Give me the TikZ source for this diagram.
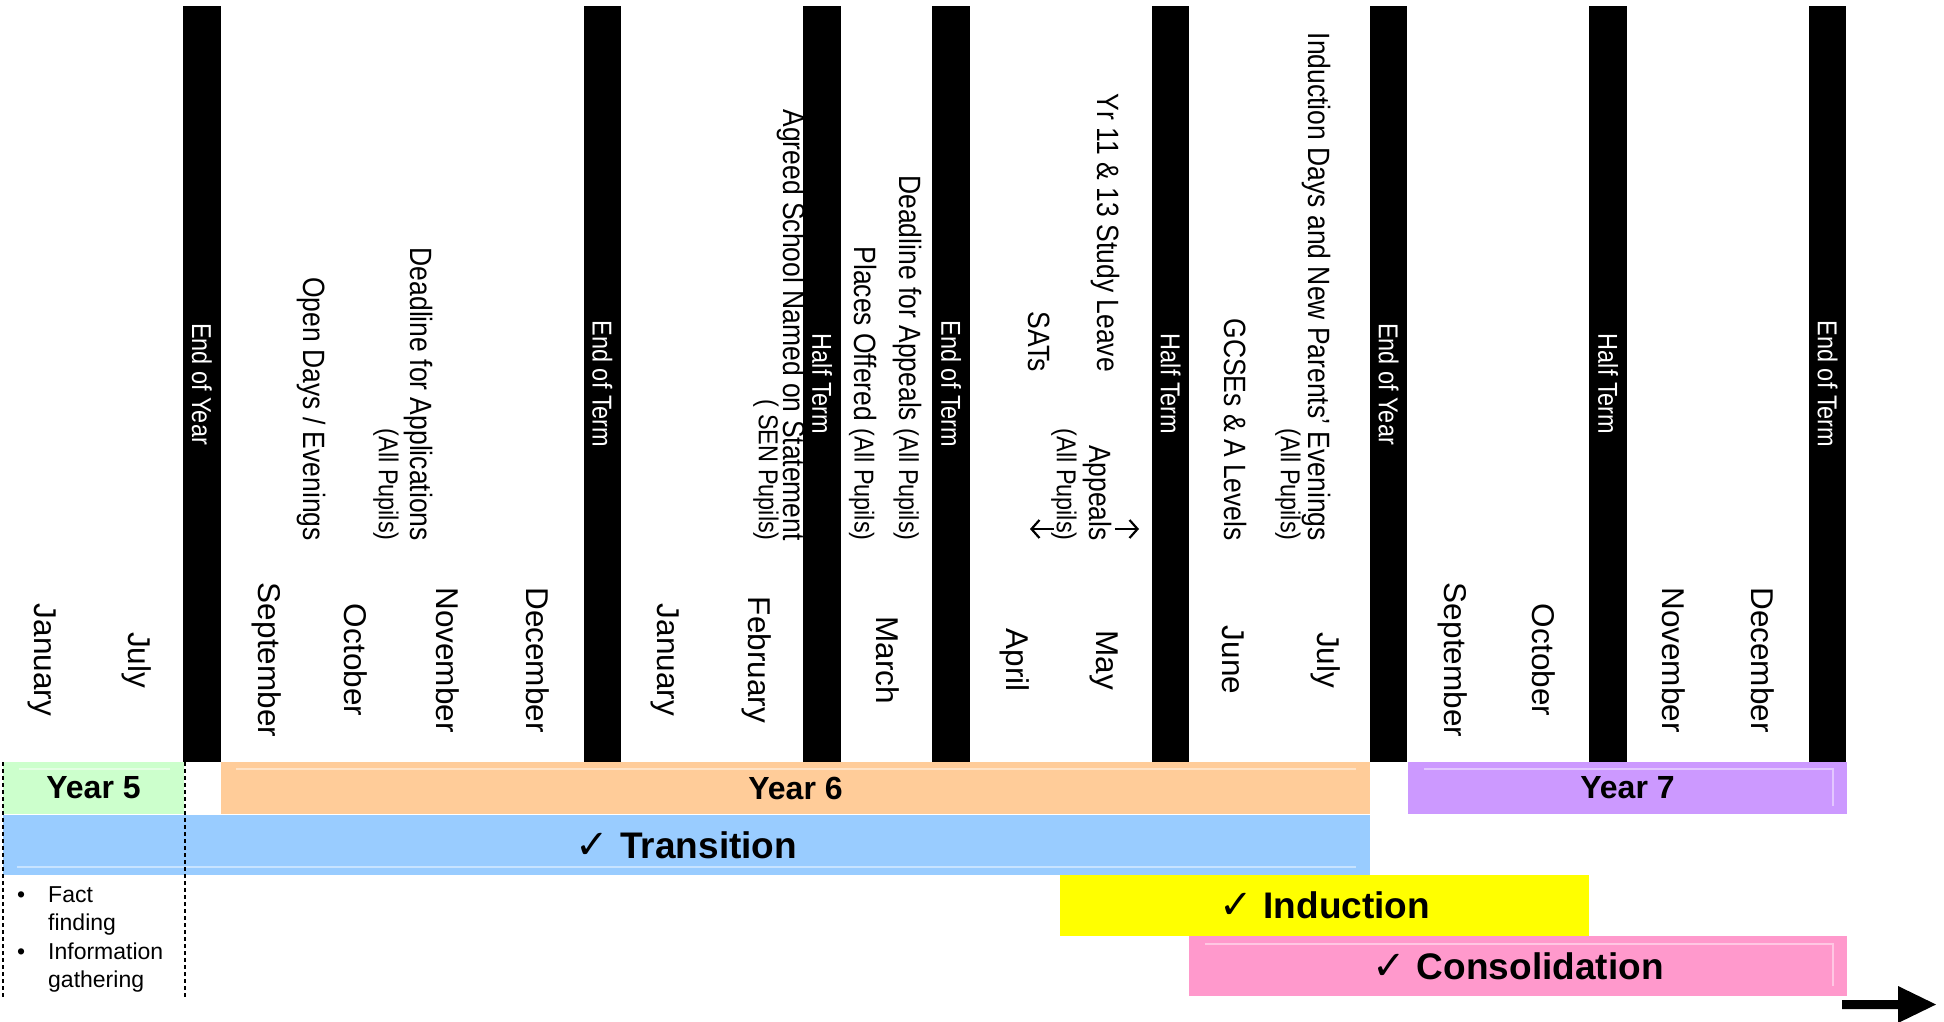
\documentclass[tikz,border=0pt]{standalone}
\usepackage{fontspec}
\setmainfont{Liberation Sans}
\newfontfamily\symfont{DejaVu Sans}
\newfontfamily\vfont[FakeStretch=0.86]{Liberation Sans}
\usetikzlibrary{arrows.meta}
\definecolor{yrfive}{HTML}{CCFFCC}
\definecolor{yrsix}{HTML}{FFCC99}
\definecolor{yrseven}{HTML}{CC99FF}
\definecolor{transc}{HTML}{99CCFF}
\definecolor{inducc}{HTML}{FFFF00}
\definecolor{consc}{HTML}{FF99CC}
\newcommand{\smallpart}{\vfont\fontsize{27.3}{32}\selectfont}
\tikzset{
  barbox/.style={fill=black, text=white, rotate=-90, minimum width=756pt, minimum height=37.5pt, inner sep=0pt, outer sep=0pt, font=\vfont\fontsize{27.3}{32}\selectfont},
  monthlbl/.style={rotate=-90, inner sep=0pt, font=\fontsize{31.5}{37}\selectfont},
  evt/.style={rotate=-90, anchor=east, inner sep=0pt, font=\vfont\fontsize{30.8}{36}\selectfont},
  evtsmall/.style={rotate=-90, anchor=east, inner sep=0pt, font=\smallpart},
  band/.style={anchor=north west, inner sep=0pt, outer sep=0pt, font=\bfseries\fontsize{32}{38}\selectfont},
  bigband/.style={band, font=\bfseries\fontsize{37}{44}\selectfont},
  bullettxt/.style={anchor=base west, inner sep=0pt, font=\fontsize{23}{28}\selectfont},
  sheen/.style={line width=1.5pt},
  dashline/.style={line width=1.3pt, dash pattern=on 4pt off 3pt},
  smallarrow/.style={line width=2.2pt, -{Straight Barb[length=8pt,width=18pt,line width=2.2pt]}}
}
\newcommand{\ck}{{\symfont\fontsize{40}{44}\selectfont ✓}}
\begin{document}
\begin{tikzpicture}[x=1pt,y=-1pt]
\useasboundingbox (0,0) rectangle (1944,1021);

% ---- event texts (drawn before bars) ----
\node[evt] (open) at (311,541) {Open Days / Evenings};
\node[evt] (dlapp) at (418,541) {Deadline for Applications};
\node[evtsmall] (dlappall) at (386,541) {(All Pupils)};
\node[evt] (agreed) at (791,541) {Agreed School Named on Statement};
\node[evtsmall] (sen) at (766,541) {( SEN Pupils)};
\node[evt] (places) at (863,541) {Places Offered {\smallpart(All Pupils)}};
\node[evt] (dlappeal) at (907,541) {Deadline for Appeals {\smallpart(All Pupils)}};
\node[evt] (sats) at (1039,372) {SATs};
\node[evt] (study) at (1105,372) {Yr 11 \& 13 Study Leave};
\node[evt] (appeals) at (1097,541) {Appeals};
\node[evtsmall] (appealsall) at (1064,541) {(All Pupils)};
\node[evt] (gcse) at (1235,541) {GCSEs \& A Levels};
\node[evt] (induct) at (1316,541) {Induction Days and New Parents’ Evenings};
\node[evtsmall] (inductall) at (1288,541) {(All Pupils)};

\coordinate (la1) at (1054,529);
\coordinate (la2) at (1030,529);
\coordinate (ra1) at (1115,529);
\coordinate (ra2) at (1139,529);
\draw[smallarrow] (la1) -- (la2);
\draw[smallarrow] (ra1) -- (ra2);

% ---- months ----
\node[monthlbl] (m1) at (42,660) {January};
\node[monthlbl] (m2) at (137,660) {July};
\node[monthlbl] (m3) at (267,660) {September};
\node[monthlbl] (m4) at (356,660) {October};
\node[monthlbl] (m5) at (448,660) {November};
\node[monthlbl] (m6) at (538,660) {December};
\node[monthlbl] (m7) at (665,660) {January};
\node[monthlbl] (m8) at (757,660) {February};
\node[monthlbl] (m9) at (888,660) {March};
\node[monthlbl] (m10) at (1015,660) {April};
\node[monthlbl] (m11) at (1104,660) {May};
\node[monthlbl] (m12) at (1233,660) {June};
\node[monthlbl] (m13) at (1326,660) {July};
\node[monthlbl] (m14) at (1453,660) {September};
\node[monthlbl] (m15) at (1544,660) {October};
\node[monthlbl] (m16) at (1674,660) {November};
\node[monthlbl] (m17) at (1763,660) {December};

% ---- bars ----
\node[barbox] (b1) at (202,384) {End of Year};
\node[barbox] (b2) at (602.5,384) {End of Term};
\node[barbox] (b3) at (822,384) {Half Term};
\node[barbox] (b4) at (951,384) {End of Term};
\node[barbox] (b5) at (1170.5,384) {Half Term};
\node[barbox] (b6) at (1388.5,384) {End of Year};
\node[barbox] (b7) at (1608,384) {Half Term};
\node[barbox] (b8) at (1827.5,384) {End of Term};

% ---- bands ----
\node[band, fill=yrfive, minimum width=181pt, minimum height=52pt] (y5) at (3,762) {Year 5};
\node[band, fill=yrsix, minimum width=1149pt, minimum height=52pt] (y6) at (221,762) {Year 6};
\node[band, fill=yrseven, minimum width=439pt, minimum height=52pt] (y7) at (1408,762) {Year 7};
\node[bigband, fill=transc, minimum width=1367pt, minimum height=60pt] (tr) at (3,815) {\ck\hspace{11pt}Transition};
\node[bigband, fill=inducc, minimum width=529pt, minimum height=61pt] (ind) at (1060,875) {\ck\hspace{11pt}Induction};
\node[bigband, fill=consc, minimum width=658pt, minimum height=60pt] (con) at (1189,936) {\ck\hspace{11pt}Consolidation};

% sheen lines
\draw[sheen, color=white, opacity=0.45] (19,769) -- (170,769);
\draw[sheen, color=white, opacity=0.45] (236,769) -- (1356,769);
\draw[sheen, color=white, opacity=0.45] (1424,769) -- (1833,769) -- (1833,806);
\draw[sheen, color=white, opacity=0.45] (17,867) -- (1356,867);
\draw[sheen, color=white, opacity=0.45] (1205,944) -- (1833,944) -- (1833,986);

% ---- dashed Year 5 column ----
\coordinate (d1t) at (3,762);
\coordinate (d1b) at (3,998);
\coordinate (d2t) at (185,762);
\coordinate (d2b) at (185,998);
\draw[dashline] (d1t) -- (d1b);
\draw[dashline] (d2t) -- (d2b);

% ---- bullets ----
\node[bullettxt] (bu1) at (17,902) {•};
\node[bullettxt] (t1) at (48,902) {Fact};
\node[bullettxt] (t2) at (48,930) {finding};
\node[bullettxt] (bu2) at (17,959) {•};
\node[bullettxt] (t3) at (48,959) {Information};
\node[bullettxt] (t4) at (48,987) {gathering};

% ---- timeline arrow ----
\fill (1842,1000) -- (1898,1000) -- (1898,986) -- (1936,1004.5) -- (1898,1023) -- (1898,1009) -- (1842,1009) -- cycle;
\end{tikzpicture}
\end{document}
